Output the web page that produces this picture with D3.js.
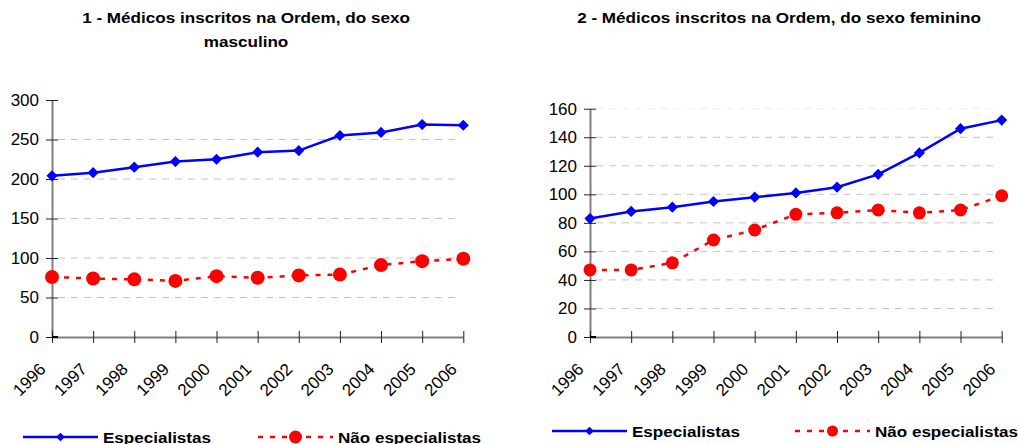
<!DOCTYPE html>
<html>
<head>
<meta charset="utf-8">
<script src="https://cdn.jsdelivr.net/npm/d3@7/dist/d3.min.js"></script>
<style>
  body { margin: 0; background: #fff; }
  svg { display: block; font-family: Arial, "Liberation Sans", sans-serif; }
</style>
</head>
<body>
<svg id="chart" width="1018" height="444"></svg>
<script>
// data
var years = ["1996", "1997", "1998", "1999", "2000", "2001", "2002", "2003", "2004", "2005", "2006"];

var mascEsp = [204, 208, 215, 222, 225, 234, 236, 255, 259, 269, 268];
var mascNao = [76, 74, 73, 71, 77, 75, 78, 79, 91, 96, 99];

var femEsp = [83, 88, 91, 95, 98, 101, 105, 114, 129, 146, 152];
var femNao = [47, 47, 52, 68, 75, 86, 87, 89, 87, 89, 99];

var mascTicks = [0, 50, 100, 150, 200, 250, 300];
var femTicks = [0, 20, 40, 60, 80, 100, 120, 140, 160];

var seriesNames = ["Especialistas", "Não especialistas"];

var svg = d3.select("#chart");
var FONT = "Arial, 'Liberation Sans', sans-serif";

// text that is a bit wider than the font (the picture is stretched sideways)
function wideText(parent, x, y, str, size, sx, weight, anchor) {
    return parent.append("text")
        .attr("transform", "translate(" + x + "," + y + ") scale(" + sx + ",1)")
        .attr("text-anchor", anchor || "middle")
        .style("font-size", size + "px")
        .style("font-weight", weight || "normal")
        .style("font-family", FONT)
        .attr("fill", "#000")
        .text(str);
}

function diamond(sel, size) {
    sel.attr("d", d3.symbol(d3.symbolSquare, size)())
}

function drawPanel(cfg) {
    var g = svg.append("g");

    var x = d3.scalePoint().domain(years).range([cfg.x0, cfg.x1]);
    var y = d3.scaleLinear().domain([0, cfg.ticks[cfg.ticks.length - 1]]).range([cfg.yBottom, cfg.yTop]);

    // titles
    cfg.title.forEach(function (t, i) {
        wideText(g, cfg.titleX, 23 + i * 24, t, 14.5, 1.18, "bold");
    });

    // gridlines
    g.selectAll(".grid")
        .data(cfg.ticks.filter(function (t) { return t > 0; }))
        .enter().append("line")
        .attr("x1", cfg.x0 + 6)
        .attr("x2", cfg.x1 - 3)
        .attr("y1", function (d) { return y(d); })
        .attr("y2", function (d) { return y(d); })
        .attr("stroke", function (d, i, arr) { return i == arr.length - 1 ? cfg.topGrid : "#c4c4c4"; })
        .attr("stroke-width", 1)
        .attr("stroke-dasharray", "7,6");

    // y axis
    var yAxis = g.append("g")
        .attr("transform", "translate(" + cfg.x0 + ",0)")
        .call(d3.axisLeft(y).tickValues(cfg.ticks).tickSize(6).tickSizeOuter(0).tickPadding(7));
    yAxis.attr("font-family", null);
    yAxis.select(".domain").attr("stroke", "#808080").attr("stroke-width", 2);
    yAxis.selectAll(".tick line").attr("x1", 6).attr("stroke", "#222");
    yAxis.selectAll(".tick text")
        .style("font-size", "17px")
        .style("font-family", FONT)
        .attr("fill", "#000");

    // x axis
    var xAxis = g.append("g")
        .attr("transform", "translate(0," + cfg.yBottom + ")")
        .call(d3.axisBottom(x).tickSize(6).tickSizeOuter(0));
    xAxis.attr("font-family", null);
    xAxis.select(".domain").attr("stroke", "#808080").attr("stroke-width", 2);
    xAxis.selectAll(".tick line").attr("y1", -6).attr("stroke", "#222");
    xAxis.selectAll(".tick text")
        .style("font-size", "17px")
        .style("font-family", FONT)
        .attr("fill", "#000")
        .attr("text-anchor", "end")
        .attr("y", 0)
        .attr("dy", "0.35em")
        .attr("transform", "translate(-10,29) rotate(-45)");

    // corner mark where the axes meet
    g.append("line")
        .attr("x1", cfg.x0).attr("x2", cfg.x0 + 6)
        .attr("y1", cfg.yBottom).attr("y2", cfg.yBottom)
        .attr("stroke", "#000").attr("stroke-width", 2);

    var line = d3.line()
        .x(function (d, i) { return x(years[i]); })
        .y(function (d) { return y(d); });

    // Não especialistas
    g.append("path")
        .datum(cfg.nao)
        .attr("d", line)
        .attr("fill", "none")
        .attr("stroke", "#ff0000")
        .attr("stroke-width", 2.5)
        .attr("stroke-dasharray", "5,7");
    g.selectAll(".nao")
        .data(cfg.nao)
        .enter().append("circle")
        .attr("cx", function (d, i) { return x(years[i]); })
        .attr("cy", function (d) { return y(d); })
        .attr("r", cfg.dot)
        .attr("fill", "#ff0000");

    // Especialistas
    g.append("path")
        .datum(cfg.esp)
        .attr("d", line)
        .attr("fill", "none")
        .attr("stroke", "#0000ff")
        .attr("stroke-width", 2.5);
    g.selectAll(".esp")
        .data(cfg.esp)
        .enter().append("path")
        .attr("transform", function (d, i) { return "translate(" + x(years[i]) + "," + y(d) + ") rotate(45)"; })
        .call(diamond, 62)
        .attr("fill", "#0000ff");

    // legend
    var L = cfg.legend;
    var lg = g.append("g").attr("transform", "translate(0," + L.y + ")");
    lg.append("line")
        .attr("x1", L.x).attr("x2", L.x + 75).attr("y1", 0).attr("y2", 0)
        .attr("stroke", "#0000ff").attr("stroke-width", 2.5);
    lg.append("path")
        .attr("transform", "translate(" + (L.x + 37.5) + ",0) rotate(45)")
        .call(diamond, 38)
        .attr("fill", "#0000ff");
    wideText(lg, L.x + 80, 5.5, seriesNames[0], 15.5, 1.1, "bold", "start");

    lg.append("line")
        .attr("x1", L.x2).attr("x2", L.x2 + 75).attr("y1", 0).attr("y2", 0)
        .attr("stroke", "#ff0000").attr("stroke-width", 2.5)
        .attr("stroke-dasharray", "5,7");
    lg.append("circle")
        .attr("cx", L.x2 + 37.5).attr("cy", 0).attr("r", L.dot)
        .attr("fill", "#ff0000");
    wideText(lg, L.x2 + 80, 5.5, seriesNames[1], 15.5, 1.1, "bold", "start");
}

drawPanel({
    x0: 52, x1: 463.3, yTop: 100, yBottom: 337,
    ticks: mascTicks, esp: mascEsp, nao: mascNao,
    title: ["1 - Médicos inscritos na Ordem, do sexo", "masculino"],
    titleX: 246, topGrid: "none", dot: 7,
    legend: { x: 23, x2: 258, y: 437, dot: 6.5 }
});

drawPanel({
    x0: 590, x1: 1001.7, yTop: 108.7, yBottom: 337,
    ticks: femTicks, esp: femEsp, nao: femNao,
    title: ["2 - Médicos inscritos na Ordem, do sexo feminino"],
    titleX: 779, topGrid: "#eeeeee", dot: 6.5,
    legend: { x: 552, x2: 795, y: 431, dot: 5.5 }
});
</script>
</body>
</html>
